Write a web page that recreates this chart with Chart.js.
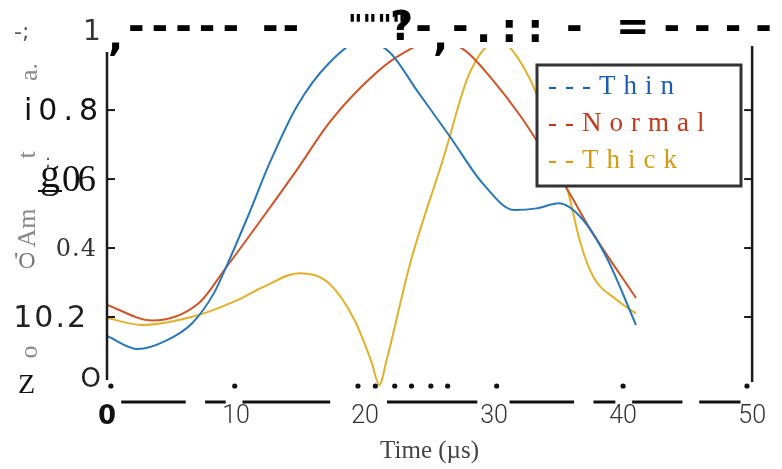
<!DOCTYPE html>
<html>
<head>
<meta charset="utf-8">
<script src="https://cdn.jsdelivr.net/npm/chart.js@4/dist/chart.umd.min.js"></script>
<style>
  html, body { margin: 0; padding: 0; background: #fff; }
  #wrap { width: 782px; height: 469px; position: relative; }
</style>
</head>
<body>
<div id="wrap"><canvas id="c"></canvas></div>
<script>
// ---- data ----
const seriesNames = ["Thin", "Normal", "Thick"];
const legendPrefix = ["---", "--", "--"];

const thinTime  = [0, 2.4, 4.5, 6.6, 8.3, 9.2, 10.9, 12.6, 14.7, 17.2, 19.8, 21.9, 24.0, 26.6, 29.1, 31.6, 33.3, 35.0, 36.7, 38.7, 41.0];
const thinAmp   = [0.145, 0.107, 0.13, 0.182, 0.27, 0.342, 0.49, 0.646, 0.81, 0.936, 1.0, 0.968, 0.858, 0.722, 0.588, 0.51, 0.515, 0.53, 0.49, 0.374, 0.177];

const normalTime = [0, 3.5, 7.1, 9.2, 12.1, 14.7, 17.2, 19.7, 22.3, 25.5, 27.7, 29.9, 32.1, 34.0, 35.7, 37.5, 41.0];
const normalAmp  = [0.235, 0.19, 0.24, 0.342, 0.49, 0.626, 0.762, 0.867, 0.95, 1.0, 0.974, 0.887, 0.78, 0.67, 0.568, 0.452, 0.255];

const thickTime = [0, 2.7, 7.1, 10.1, 12.1, 14.9, 17.2, 19.2, 20.5, 21.1, 21.7, 23.5, 26.1, 28.1, 30.3, 32.7, 34.5, 35.7, 36.7, 37.7, 39.5, 41.0];
const thickAmp  = [0.197, 0.177, 0.206, 0.249, 0.287, 0.327, 0.298, 0.19, 0.07, 0.003, 0.08, 0.356, 0.664, 0.907, 1.0, 0.896, 0.72, 0.568, 0.414, 0.316, 0.25, 0.21];

const xTickValues = [0, 10, 20, 30, 40, 50];
const xTickLabels = ["0", "10", "20", "30", "40", "50"];
const yTickValues = [0, 0.2, 0.4, 0.6, 0.8];
const yTickLabels = ["O", "10.2", "0.4", "06", "i0.8"];
const axisDots = [0.3, 9.9, 19.45, 20.8, 22.3, 23.6, 25.1, 26.4, 30.2, 40, 49.6];
const axisDashes = [[1.1, 6.1], [7.6, 9.2], [10.5, 17.3], [21.7, 28.7], [31.2, 36.2], [37.7, 39.4], [40.7, 44.6], [45.9, 49.1]];
const xTitle = "Time (\u00b5s)";
// ---- styles ----
const lineColors = ["#2878b8", "#cf5426", "#e3b02a"];
const textColors = ["#1a5fb4", "#c4391a", "#d99a0e"];
const yLabelStyle = [
  { font: "26px 'DejaVu Sans'", ls: 0, right: 101, dy: -6, color: "#222" },
  { font: "30px 'DejaVu Sans'", ls: 2, right: 86, dy: 2, color: "#222" },
  { font: "24px 'DejaVu Serif'", ls: 1, right: 96, dy: 2, color: "#333" },
  { font: "37px 'Liberation Serif'", ls: -3, right: 96, dy: 2, color: "#111" },
  { font: "30px 'DejaVu Sans'", ls: 6, right: 98, dy: 2, color: "#111" }
];

function pts(t, v) { return t.map((x, i) => ({ x: x, y: v[i] })); }

const decor = {
  id: 'decor',
  afterDatasetsDraw(chart) {
    const ctx = chart.ctx, xs = chart.scales.x, ys = chart.scales.y, a = chart.chartArea;
    ctx.save();
    // axes lines
    ctx.strokeStyle = "#1a1a1a"; ctx.lineWidth = 2.5;
    ctx.beginPath(); ctx.moveTo(a.left, a.top + 4); ctx.lineTo(a.left, a.bottom - 6); ctx.stroke();
    ctx.beginPath(); ctx.moveTo(a.right, a.top - 2); ctx.lineTo(a.right, a.bottom - 4); ctx.stroke();
    // inner ticks
    ctx.lineWidth = 2;
    yTickValues.forEach(v => {
      if (v === 0) return;
      const y = ys.getPixelForValue(v);
      ctx.strokeStyle = "#1a1a1a";
      ctx.beginPath(); ctx.moveTo(a.left, y); ctx.lineTo(a.left + 8, y); ctx.stroke();
      ctx.beginPath(); ctx.moveTo(a.right, y); ctx.lineTo(a.right - 8, y); ctx.stroke();
    });
    // dots on x axis
    ctx.fillStyle = "#111";
    axisDots.forEach(t => {
      ctx.beginPath(); ctx.arc(xs.getPixelForValue(t), a.bottom, 2.6, 0, Math.PI * 2); ctx.fill();
    });
    // dashes under axis
    ctx.strokeStyle = "#111"; ctx.lineWidth = 3;
    axisDashes.forEach(d => {
      ctx.beginPath(); ctx.moveTo(xs.getPixelForValue(d[0]), a.bottom + 16);
      ctx.lineTo(xs.getPixelForValue(d[1]), a.bottom + 16); ctx.stroke();
    });
    // y tick labels
    ctx.textBaseline = "middle";
    yTickValues.forEach((v, i) => {
      const s = yLabelStyle[i];
      ctx.font = s.font; ctx.letterSpacing = s.ls + "px"; ctx.fillStyle = s.color;
      ctx.textAlign = "right";
      ctx.fillText(yTickLabels[i], s.right + s.ls, ys.getPixelForValue(v) + s.dy);
    });
    ctx.letterSpacing = "0px";
    // garbled y axis title fragments
    ctx.fillStyle = "#8a8a8a";
    ctx.font = "26px 'Liberation Serif'";
    const rot = (txt, x, y) => { ctx.save(); ctx.translate(x, y); ctx.rotate(-Math.PI / 2); ctx.textAlign = "center"; ctx.fillText(txt, 0, 0); ctx.restore(); };
    rot("a.", 30, 72);
    rot("t", 28, 155);
    rot("Am", 28, 228);
    rot("o", 30, 352);
    ctx.textAlign = "left";
    ctx.fillStyle = "#777"; ctx.font = "24px 'Liberation Serif'";
    ctx.fillText("'O", 14, 262);
    ctx.fillStyle = "#111"; ctx.font = "40px 'Liberation Serif'";
    ctx.fillText("g", 40, 176);
    ctx.fillRect(38, 190, 24, 2);
    ctx.font = "28px 'Liberation Serif'";
    ctx.fillText("Z", 18, 386);
    ctx.fillStyle = "#555"; ctx.font = "18px 'DejaVu Sans'";
    ctx.fillText(";", 45, 162);
    // garbled top line
    ctx.fillStyle = "#555"; ctx.font = "22px 'DejaVu Sans'";
    ctx.fillText("-;", 14, 33);
    ctx.fillStyle = "#333"; ctx.font = "28px 'DejaVu Sans'";
    ctx.fillText("1", 83, 33);
    ctx.fillStyle = "#000";
    const pieces = [[",", 108, 40, 6, 40], ["-----", 128, 30, 7, 40], ["--", 262, 30, 4, 40], ["\"\"\"\"", 348, 28, 0, 28], ["?-", 390, 30, 2, 40], [",", 433, 40, 0, 40], ["-", 452, 30, 0, 40], [".::", 476, 32, 10, 40], ["-", 566, 30, 0, 40], ["=----", 616, 30, 14, 40]];
    pieces.forEach(p => { ctx.font = "bold " + p[4] + "px 'DejaVu Sans'"; ctx.letterSpacing = p[3] + "px"; ctx.fillText(p[0], p[1], p[2]); });
    ctx.letterSpacing = "0px";
    // legend
    const lx = 537, ly = 65, lw = 204, lh = 121;
    ctx.fillStyle = "#fff"; ctx.fillRect(lx, ly, lw, lh);
    ctx.strokeStyle = "#333"; ctx.lineWidth = 3; ctx.strokeRect(lx, ly, lw, lh);
    ctx.font = "27px 'Liberation Serif'"; ctx.letterSpacing = "8px"; ctx.textAlign = "left";
    chart.data.datasets.forEach((ds, i) => {
      ctx.fillStyle = textColors[i];
      ctx.fillText(legendPrefix[i] + ds.label, lx + 11, ly + 22 + i * 37);
    });
    ctx.restore();
  }
};

new Chart(document.getElementById('c'), {
  type: 'line',
  data: {
    datasets: [
      { label: seriesNames[0], data: pts(thinTime, thinAmp), borderColor: lineColors[0] },
      { label: seriesNames[1], data: pts(normalTime, normalAmp), borderColor: lineColors[1] },
      { label: seriesNames[2], data: pts(thickTime, thickAmp), borderColor: lineColors[2] }
    ].map(d => Object.assign(d, { borderWidth: 2, pointRadius: 0, cubicInterpolationMode: 'monotone', fill: false, clip: 0 }))
  },
  options: {
    responsive: true, maintainAspectRatio: false, animation: false, devicePixelRatio: 1,
    layout: { padding: { left: 0, right: 17, top: 48, bottom: 0 } },
    plugins: { legend: { display: false }, tooltip: { enabled: false }, title: { display: false } },
    scales: {
      x: {
        type: 'linear', min: 0, max: 50,
        grid: { display: false, drawTicks: false }, border: { display: false },
        afterBuildTicks: s => { s.ticks = xTickValues.map(v => ({ value: v })); },
        afterFit: s => { s.height = 83; },
        ticks: {
          padding: 16, maxRotation: 0,
          callback: (v) => xTickLabels[xTickValues.indexOf(v)],
          color: (c) => c.index === 0 ? "#111" : "#333",
          font: (c) => c.index === 0 ? { family: "'DejaVu Sans'", size: 26, weight: 'bold' } : { family: "Roboto", size: 25, weight: 300 }
        },
        title: { display: true, text: xTitle, color: "#444", font: { family: "'Liberation Serif'", size: 25 }, padding: { top: 0, bottom: 3 } }
      },
      y: {
        type: 'linear', min: 0, max: 0.98,
        grid: { display: false, drawTicks: false }, border: { display: false },
        ticks: { display: false },
        afterFit: s => { s.width = 107; }
      }
    }
  },
  plugins: [decor]
});
</script>
</body>
</html>
